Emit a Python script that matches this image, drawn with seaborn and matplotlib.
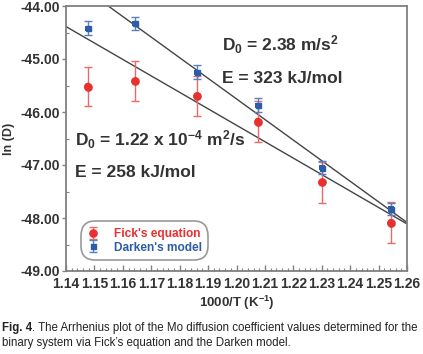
import numpy as np
import pandas as pd
import seaborn as sns
import matplotlib
matplotlib.use("Agg")
import matplotlib.pyplot as plt
from matplotlib.ticker import MultipleLocator, FormatStrFormatter

# ---- data ----
inv_T = [1.1477, 1.1643, 1.1861, 1.2076, 1.2301, 1.2544]
fick_lnD = [-45.52, -45.42, -45.70, -46.18, -47.33, -48.09]
fick_err = [0.37, 0.38, 0.38, 0.38, 0.38, 0.39]
darken_lnD = [-44.42, -44.33, -45.25, -45.87, -47.05, -47.83]
darken_err = [0.13, 0.13, 0.13, 0.13, 0.12, 0.12]
fick_D0 = 1.22e-4      # m^2/s
fick_E = 258.0         # kJ/mol
darken_D0 = 2.38
darken_E = 323.0
R = 8.314
x_range = [1.14, 1.26]
series_names = ["Fick's equation", "Darken's model"]

sns.set_theme(style="ticks")
plt.rcParams['font.family'] = ['Liberation Sans', 'DejaVu Sans']
plt.rcParams['mathtext.fontset'] = 'custom'
plt.rcParams['mathtext.rm'] = 'Liberation Sans'
plt.rcParams['mathtext.bf'] = 'Liberation Sans:bold'
plt.rcParams['mathtext.it'] = 'Liberation Sans:italic'

RED = '#e8302e'
RED_E = '#ec6a66'
BLUE = '#2d5ca8'
BLUE_E = '#5a7fbe'
TXT = '#333333'

fig = plt.figure(figsize=(4.23, 3.54), dpi=100)
ax = fig.add_axes([66/423, 1-271/354, (407-66)/423, (271-6)/354])

# fit lines from Arrhenius parameters
xl = np.array(x_range)
lines = pd.DataFrame({
    'x': np.concatenate([xl, xl]),
    'y': np.concatenate([np.log(fick_D0) - fick_E / R * xl,
                         np.log(darken_D0) - darken_E / R * xl]),
    'fit': ['fick'] * 2 + ['darken'] * 2,
})
sns.lineplot(data=lines, x='x', y='y', units='fit', estimator=None,
             color='#444444', lw=1.0, ax=ax, legend=False)

# error bars + points
h1 = ax.errorbar(inv_T, fick_lnD, yerr=fick_err, fmt='o', color=RED, ecolor=RED_E,
                 ms=5.2, elinewidth=1.0, capsize=3, capthick=1.0, label=series_names[0], zorder=3)
h2 = ax.errorbar(inv_T, darken_lnD, yerr=darken_err, fmt='s', color=BLUE, ecolor=BLUE_E,
                 ms=3.6, elinewidth=1.0, capsize=3, capthick=1.0, label=series_names[1], zorder=4)
df = pd.DataFrame({'x': inv_T * 2, 'y': fick_lnD + darken_lnD,
                   's': [series_names[0]] * 6 + [series_names[1]] * 6})
sns.scatterplot(data=df[df.s == series_names[0]], x='x', y='y', color=RED, marker='o',
                s=30, edgecolor='none', ax=ax, legend=False, zorder=5)
sns.scatterplot(data=df[df.s == series_names[1]], x='x', y='y', color=BLUE, marker='s',
                s=14, edgecolor='none', ax=ax, legend=False, zorder=5)

ax.set_xlim(1.14, 1.26)
ax.set_ylim(-49, -44)
ax.xaxis.set_major_locator(MultipleLocator(0.01))
ax.xaxis.set_minor_locator(MultipleLocator(0.002))
ax.yaxis.set_major_locator(MultipleLocator(1.0))
ax.yaxis.set_minor_locator(MultipleLocator(0.5))
ax.xaxis.set_major_formatter(FormatStrFormatter('%.2f'))
ax.yaxis.set_major_formatter(FormatStrFormatter('%.2f'))

for s in ax.spines.values():
    s.set_color('#808080')
    s.set_linewidth(1.3)
ax.tick_params(axis='x', which='major', direction='in', length=4, width=1, color='#808080',
               labelsize=10, labelcolor=TXT, pad=4)
ax.tick_params(axis='x', which='minor', direction='in', length=2.5, width=0.8, color='#808080')
ax.tick_params(axis='y', which='major', direction='out', length=3, width=1, color='#808080',
               labelsize=10, labelcolor=TXT, pad=1)
ax.tick_params(axis='y', which='minor', direction='in', length=2.5, width=0.8, color='#808080')
for lab in ax.get_xticklabels() + ax.get_yticklabels():
    lab.set_fontweight('bold')

ax.set_xlabel('1000/T (K$^{\\mathbf{-1}}$)', fontsize=9.5, fontweight='bold', color=TXT, labelpad=2)
ax.set_ylabel('ln (D)', fontsize=9, fontweight='bold', color=TXT, labelpad=4)

# annotations
kw = dict(transform=ax.transAxes, fontsize=12.5, fontweight='bold', color=TXT, va='center', ha='left')
ax.text(0.457, 0.853, 'D$_\\mathbf{0}$ = %.2f m/s$^\\mathbf{2}$' % darken_D0, **kw)
ax.text(0.457, 0.728, 'E = %d kJ/mol' % darken_E, **kw)
ax.text(0.026, 0.494, 'D$_\\mathbf{0}$ = 1.22 x 10$^\\mathbf{-4}$ m$^\\mathbf{2}$/s', **kw)
ax.text(0.026, 0.37, 'E = %d kJ/mol' % fick_E, **kw)

leg = ax.legend(handles=[h1, h2], loc='lower left', bbox_to_anchor=(0.05, 0.05),
                fontsize=8.6, frameon=True, fancybox=True, handlelength=1.0,
                handletextpad=1.2, borderpad=0.35, labelspacing=0.15, borderaxespad=0)
leg.get_frame().set_boxstyle('round', pad=0.2, rounding_size=1.2)
leg.get_frame().set_edgecolor('#808080')
leg.get_frame().set_linewidth(1.2)
for t, c in zip(leg.get_texts(), [RED, BLUE]):
    t.set_color(c)
    t.set_fontweight('bold')

# caption
CAP = 8.3
t1 = fig.text(0.005, 1 - 328/354, 'Fig. 4', fontsize=CAP, fontweight='bold', color='#222222', va='center')
ax.annotate('. The Arrhenius plot of the Mo diffusion coefficient values determined for the',
            xy=(1, 0), xycoords=t1, va='bottom', ha='left', fontsize=CAP, color='#222222',
            annotation_clip=False)
fig.text(0.005, 1 - 343/354, 'binary system via Fick\u2019s equation and the Darken model.',
         fontsize=CAP, color='#222222', va='center')

fig.savefig('out.png', dpi=100)
